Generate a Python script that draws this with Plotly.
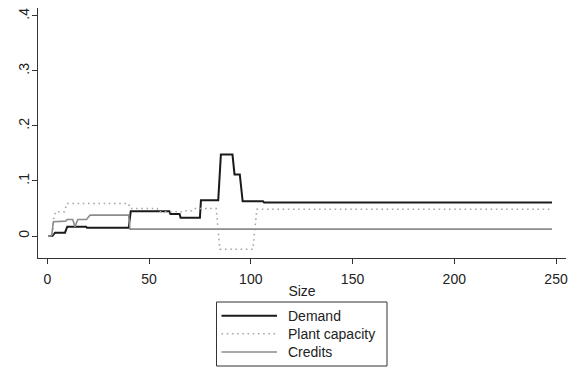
import plotly.graph_objects as go

# Demand (black solid)
demand_x = [0.5, 2.5, 3.8, 8.7, 9.8, 19.0, 19.5, 40.0, 41.0, 60.0, 60.5, 65.0, 65.5, 75.0, 75.5, 84.0, 85.3, 91.0, 92.0, 94.6, 96.0, 106.0, 106.5, 248.0]
demand_y = [0.0, 0.0, 0.006, 0.006, 0.017, 0.017, 0.015, 0.015, 0.045, 0.045, 0.040, 0.040, 0.033, 0.033, 0.065, 0.065, 0.148, 0.148, 0.112, 0.112, 0.063, 0.063, 0.061, 0.061]

# Plant capacity (gray dotted)
cap_x = [0.5, 2.5, 3.0, 4.0, 8.5, 9.5, 40.0, 40.6, 54.0, 54.5, 66.7, 67.2, 71.0, 72.0, 83.0, 84.8, 101.0, 103.0, 247.0]
cap_y = [0.0, 0.0, 0.030, 0.044, 0.044, 0.059, 0.059, 0.050, 0.050, 0.044, 0.044, 0.046, 0.046, 0.050, 0.050, -0.024, -0.024, 0.0485, 0.0485]

# Credits (gray solid)
cred_x = [0.5, 2.1, 3.0, 9.0, 9.7, 12.5, 13.6, 15.0, 19.3, 21.0, 40.0, 40.6, 248.0]
cred_y = [0.0, 0.0, 0.026, 0.027, 0.030, 0.030, 0.017, 0.030, 0.030, 0.038, 0.038, 0.0125, 0.0125]

series_names = ["Demand", "Plant capacity", "Credits"]
y_tickvals = [0, 0.1, 0.2, 0.3, 0.4]
y_ticktext = ["0", ".1", ".2", ".3", ".4"]
x_tickvals = [0, 50, 100, 150, 200, 250]
x_ticktext = ["0", "50", "100", "150", "200", "250"]

FONT = "Liberation Sans, Arial, sans-serif"
TXT = "#222222"

W, H = 577, 368
ML, MR, MT, MB = 38, 11, 8, 110
PW, PH = W - ML - MR, H - MT - MB


def px_to_paper_x(px):
    return (px - ML) / PW


def py_to_paper_y(py):
    return (H - MB - py) / PH


styles = [dict(color="#1a1a1a", width=2),
          dict(color="#a8a8a8", width=1.6, dash="1.6px,3.6px"),
          dict(color="#8c8c8c", width=1.6)]

fig = go.Figure()
for name, xs, ys, st in zip(series_names, [demand_x, cap_x, cred_x],
                            [demand_y, cap_y, cred_y], styles):
    fig.add_trace(go.Scatter(x=xs, y=ys, mode="lines", name=name, line=st,
                             showlegend=False, hoverinfo="skip"))

# custom legend box (Stata style) below the plot
shapes = [dict(type="rect", xref="paper", yref="paper",
               x0=px_to_paper_x(216.5), x1=px_to_paper_x(387),
               y0=py_to_paper_y(302), y1=py_to_paper_y(366),
               line=dict(color="#333333", width=1), fillcolor="white")]
annotations = []
entry_py = [315.7, 333.8, 352.0]
for name, st, py in zip(series_names, styles, entry_py):
    shapes.append(dict(type="line", xref="paper", yref="paper",
                       x0=px_to_paper_x(221.5), x1=px_to_paper_x(277),
                       y0=py_to_paper_y(py), y1=py_to_paper_y(py),
                       line=st))
    annotations.append(dict(text=name, xref="paper", yref="paper",
                            x=px_to_paper_x(286), y=py_to_paper_y(py),
                            xanchor="left", yanchor="middle", showarrow=False,
                            font=dict(family=FONT, size=14, color=TXT)))

fig.update_layout(
    width=W, height=H,
    margin=dict(l=ML, r=MR, t=MT, b=MB, autoexpand=False),
    paper_bgcolor="white", plot_bgcolor="white",
    font=dict(family=FONT, size=14, color=TXT),
    showlegend=False,
    shapes=shapes,
    annotations=annotations,
    xaxis=dict(range=[-4.57, 254.9], tickvals=x_tickvals, ticktext=x_ticktext,
               showgrid=False, zeroline=False, showline=True, linecolor="#333",
               linewidth=1, ticks="outside", ticklen=5, tickcolor="#333",
               automargin=False, tickfont=dict(size=14), ticklabelstandoff=3,
               title=dict(text="Size", standoff=0, font=dict(size=14))),
    yaxis=dict(range=[-0.04, 0.4145], tickvals=y_tickvals, ticktext=y_ticktext,
               showgrid=False, zeroline=False, showline=True, linecolor="#333",
               linewidth=1, ticks="outside", ticklen=5, tickcolor="#333",
               tickangle=-90, automargin=False, tickfont=dict(size=14),
               ticklabelstandoff=-3),
)

fig.write_html("out.html", config={"displayModeBar": False},
               post_script="document.body.style.margin='0';document.body.style.padding='0';")
